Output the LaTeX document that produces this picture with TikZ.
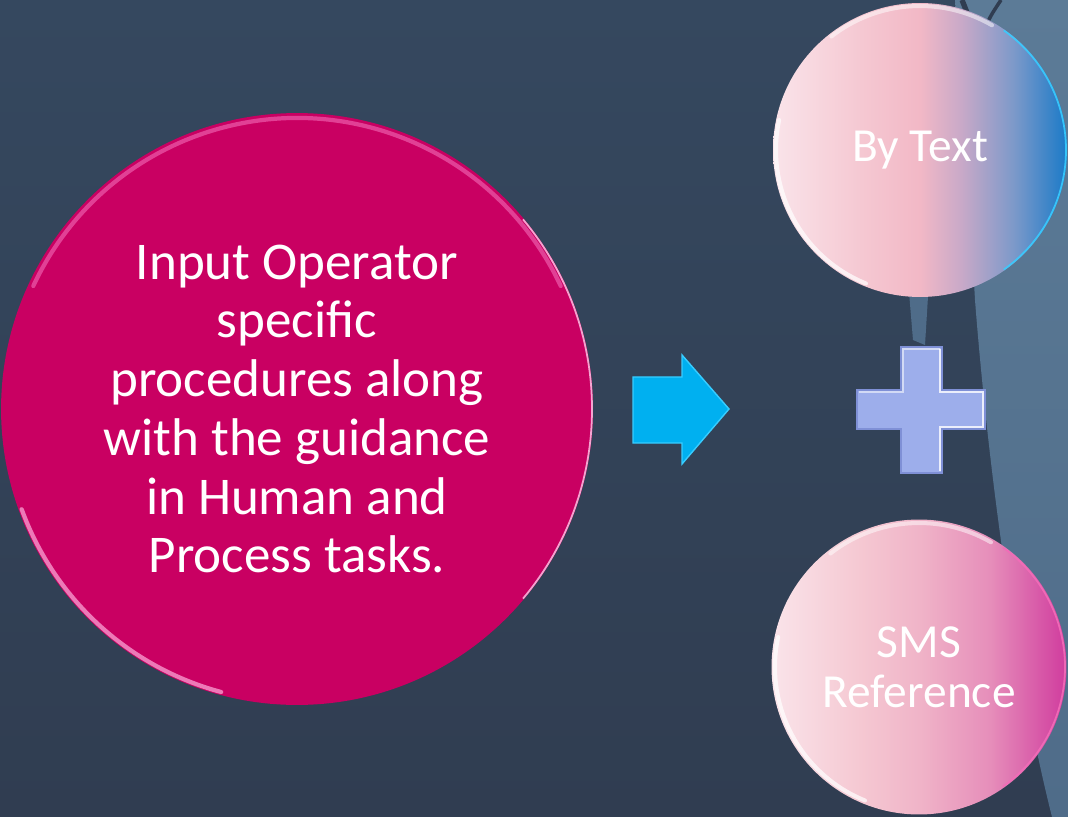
\documentclass[tikz,border=0pt]{standalone}
\usepackage{fontspec}
\setmainfont{Carlito}
\usetikzlibrary{calc}

\definecolor{bgtop}{HTML}{35485F}
\definecolor{bgbot}{HTML}{303D51}
\definecolor{swooshtop}{HTML}{5C7B97}
\definecolor{swooshbot}{HTML}{4F6C89}
\definecolor{magentadisc}{HTML}{C90062}
\definecolor{magentarim}{HTML}{F26CB8}
\definecolor{arrowcyan}{HTML}{00B0F0}
\definecolor{arrowrim}{HTML}{38CCFF}
\definecolor{pluslav}{HTML}{9DAEEB}
\definecolor{plusedge}{HTML}{7F90D6}
\definecolor{pkA}{HTML}{FAE4EA}
\definecolor{pkB}{HTML}{F5C8D2}
\definecolor{pkC}{HTML}{F2B8C6}
\definecolor{pkD}{HTML}{C9A9C8}
\definecolor{lilac}{HTML}{7C99C9}
\definecolor{deepblue}{HTML}{1A7AC8}
\definecolor{smsB}{HTML}{F0B4C8}
\definecolor{smsC}{HTML}{E68EBA}
\definecolor{smsD}{HTML}{D03C9E}

\pgfdeclarehorizontalshading{textdisc}{100bp}{color(0bp)=(pkA); color(25bp)=(pkA);
  color(40bp)=(pkB); color(50bp)=(pkC); color(57bp)=(pkD); color(66bp)=(lilac);
  color(75bp)=(deepblue); color(100bp)=(deepblue)}
\pgfdeclarehorizontalshading{smsdisc}{100bp}{color(0bp)=(pkA); color(25bp)=(pkA);
  color(40bp)=(pkB); color(50bp)=(smsB); color(62bp)=(smsC);
  color(75bp)=(smsD); color(100bp)=(smsD)}

\begin{document}
\begin{tikzpicture}[
  x=0.02cm,
  y=-0.02cm,
  mydisc/.style={
    circle,
    inner sep=0pt,
    align=center,
    text=white
  },
  myrim/.style={
    line width=2.3pt,
    white,
    opacity=0.7,
    line cap=round
  }
]
\useasboundingbox (0,0) rectangle (1068,817);
% background
\shade[top color=bgtop, bottom color=bgbot] (0,0) rectangle (1068,817);
\shade[top color=swooshtop, bottom color=swooshbot] (955,0) -- (1068,0) -- (1068,817) -- (1052,817)
  .. controls (1010,650) and (985,430) .. (975,300) .. controls (968,180) and (962,80) .. (955,0) -- cycle;
\fill[swooshbot] (908,280) -- (929,280) -- (925,345) -- (913,340) -- cycle;
\draw[bgbot, line width=3pt] (962,0) .. controls (968,15) .. (976,36);
\draw[bgbot, line width=2pt] (1001,0) .. controls (991,15) .. (983,32);

% left disc
\node[mydisc, minimum size=11.84cm, fill=magentadisc,
  font=\fontsize{30.2pt}{33.4pt}\selectfont] (input) at (297,409)
  {Input Operator\\specific\\procedures along\\with the guidance\\in Human and\\Process tasks.};
\draw[magentarim, line width=2.4pt, opacity=0.6, line cap=round]
  ($(input.center)+(205:291)$) arc[start angle=205, end angle=335, radius=291];
\draw[magentarim!70!white, line width=2.4pt, opacity=0.8, line cap=round]
  ($(input.center)+(105:293)$) arc[start angle=105, end angle=160, radius=293];
\draw[magentarim!50!white, line width=1pt, opacity=0.9]
  ($(input.center)+(-40:295)$) arc[start angle=-40, end angle=40, radius=295];

% arrow
\filldraw[fill=arrowcyan, draw=arrowrim, line width=0.8pt, line join=miter]
  (633,377) -- (682,377) -- (682,355) -- (729,409) -- (682,464) -- (682,443) -- (633,443) -- cycle;

% plus
\filldraw[fill=pluslav, draw=plusedge, line width=0.6pt]
  (901,347) -- (942,347) -- (942,390) -- (985,390) -- (985,429) -- (942,429) -- (942,473)
  -- (901,473) -- (901,429) -- (857,429) -- (857,390) -- (901,390) -- cycle;
\draw[white, opacity=0.55, line width=1pt]
  (859,392) -- (903,392) -- (903,349) -- (940,349);
\draw[white, opacity=0.8, line width=1.2pt]
  (940,349) -- (940,392) -- (983,392) -- (983,427) -- (940,427) -- (940,471);

% right discs
\node[mydisc, minimum size=5.88cm, shade, shading=textdisc,
  font=\fontsize{27pt}{28.45pt}\selectfont] (bytext) at (920,150) {By Text};
\node[mydisc, minimum size=5.9cm, shade, shading=smsdisc,
  font=\fontsize{27pt}{28.45pt}\selectfont] (sms) at (919,667) {SMS\\Reference};

\foreach \disc/\edge in {bytext/arrowrim, sms/magentarim} {
  \draw[myrim] ($(\disc.center)+(112:144)$) arc[start angle=112, end angle=192, radius=144];
  \draw[myrim, opacity=0.5] ($(\disc.center)+(232:144)$) arc[start angle=232, end angle=300, radius=144];
  \draw[\edge, line width=1pt, opacity=0.9] ($(\disc.center)+(-55:146)$) arc[start angle=-55, end angle=55, radius=146];
}
\end{tikzpicture}
\end{document}
